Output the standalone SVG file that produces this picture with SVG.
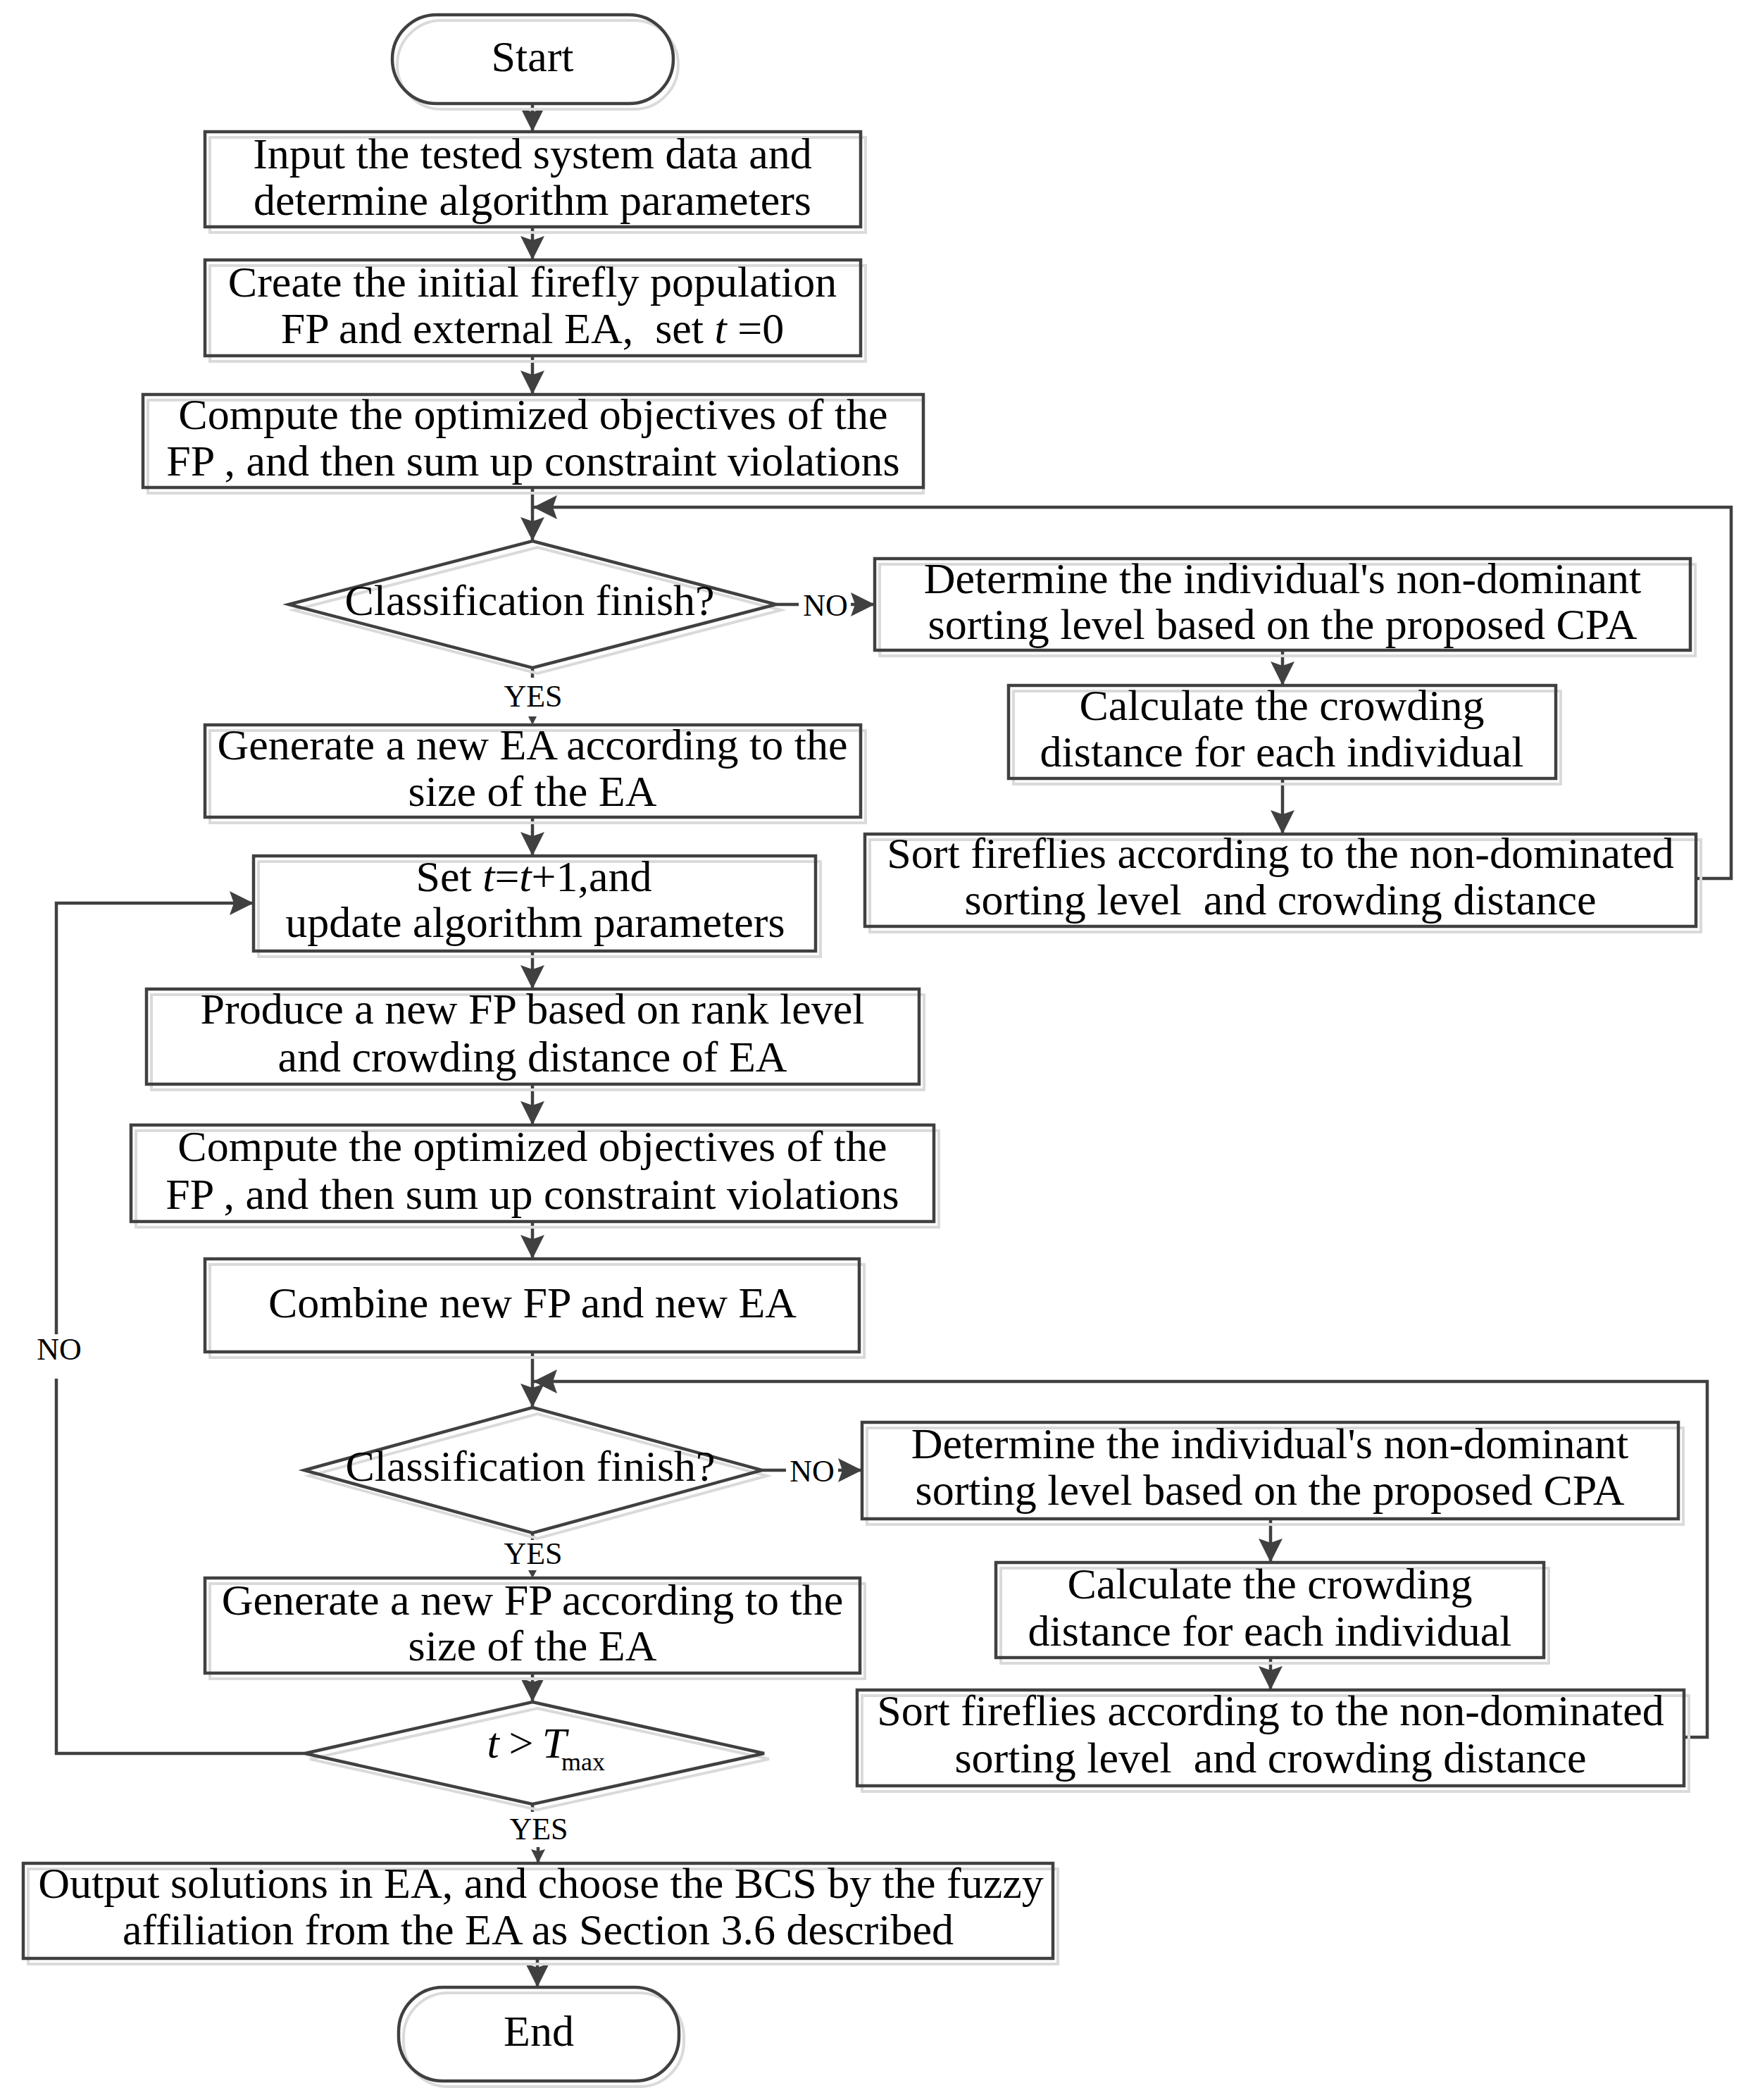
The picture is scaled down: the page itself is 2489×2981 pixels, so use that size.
<svg xmlns="http://www.w3.org/2000/svg" width="2489" height="2981" viewBox="0 0 2489 2981">
<style>
.box{fill:none;stroke:#404040;stroke-width:4.5}
.sh{fill:none;stroke:#dadada;stroke-width:4}
.t{font-family:"Liberation Serif","Times New Roman",serif;font-size:62px;text-anchor:middle;fill:#000;white-space:pre}
.lbl{font-family:"Liberation Serif","Times New Roman",serif;font-size:44px;text-anchor:middle;fill:#000}
.conn{fill:none;stroke:#404040;stroke-width:4.5}
.i{font-style:italic}
.ah{fill:#404040}
</style>
<defs>
<marker id="ah" markerUnits="userSpaceOnUse" markerWidth="36" markerHeight="36" refX="34" refY="17" orient="auto">
<path d="M0,0 L34,17 L0,34 L6,17 Z" fill="#404040"/>
</marker>
<marker id="ahs" markerUnits="userSpaceOnUse" markerWidth="22" markerHeight="22" refX="20" refY="10" orient="auto">
<path d="M0,0 L20,10 L0,20 L3,10 Z" fill="#404040"/>
</marker>
</defs>
<rect width="2489" height="2981" fill="#fff"/>

<g id="connectors">
<line class="conn" x1="756" y1="147" x2="756" y2="187" marker-end="url(#ah)"/>
<line class="conn" x1="756" y1="322" x2="756" y2="369" marker-end="url(#ah)"/>
<line class="conn" x1="756" y1="505" x2="756" y2="560" marker-end="url(#ah)"/>
<line class="conn" x1="756" y1="692" x2="756" y2="768" marker-end="url(#ah)"/>
<path class="conn" d="M2408,1247 H2458 V720 H757" marker-end="url(#ah)"/>
<line class="conn" x1="1102" y1="858" x2="1242" y2="858" marker-end="url(#ah)"/>
<line class="conn" x1="1821" y1="923" x2="1821" y2="973" marker-end="url(#ah)"/>
<line class="conn" x1="1821" y1="1105" x2="1821" y2="1184" marker-end="url(#ah)"/>
<line class="conn" x1="756" y1="948" x2="756" y2="962"/>
<polygon class="ah" points="750,1017 762,1017 756,1029"/>
<line class="conn" x1="756" y1="1160" x2="756" y2="1215" marker-end="url(#ah)"/>
<path class="conn" d="M433,2489 H80 V1282 H360" marker-end="url(#ah)"/>
<line class="conn" x1="756" y1="1350" x2="756" y2="1404" marker-end="url(#ah)"/>
<line class="conn" x1="756" y1="1539" x2="756" y2="1597" marker-end="url(#ah)"/>
<line class="conn" x1="756" y1="1734" x2="756" y2="1787" marker-end="url(#ah)"/>
<line class="conn" x1="756" y1="1919" x2="756" y2="1998" marker-end="url(#ah)"/>
<path class="conn" d="M2391,2466 H2424 V1961 H757" marker-end="url(#ah)"/>
<line class="conn" x1="1082" y1="2087" x2="1224" y2="2087" marker-end="url(#ah)"/>
<line class="conn" x1="1804" y1="2156" x2="1804" y2="2218" marker-end="url(#ah)"/>
<line class="conn" x1="1804" y1="2353" x2="1804" y2="2399" marker-end="url(#ah)"/>
<line class="conn" x1="756" y1="2176" x2="756" y2="2186"/>
<polygon class="ah" points="750,2229 762,2229 756,2240"/>
<line class="conn" x1="756" y1="2375" x2="756" y2="2416" marker-end="url(#ah)"/>
<line class="conn" x1="756" y1="2561" x2="756" y2="2572"/>
<line class="conn" x1="764" y1="2622" x2="764" y2="2645" marker-end="url(#ahs)"/>
<line class="conn" x1="763" y1="2780" x2="763" y2="2821" marker-end="url(#ah)"/>
<rect x="1134" y="836" width="74" height="44" fill="#fff"/>
<text class="lbl" x="1172" y="874">NO</text>
<rect x="1116" y="2065" width="74" height="44" fill="#fff"/>
<text class="lbl" x="1153" y="2103">NO</text>
<rect x="44" y="1894" width="80" height="63" fill="#fff"/>
<text class="lbl" x="84" y="1930">NO</text>
<text class="lbl" x="757" y="1003">YES</text>
<text class="lbl" x="757" y="2220">YES</text>
<text class="lbl" x="765" y="2611">YES</text>
</g>

<g id="start">
<rect class="sh" x="564" y="29" width="399" height="126" rx="63"/>
<rect class="box" x="557" y="21" width="399" height="126" rx="63"/>
<text class="t" x="756" y="101">Start</text>
</g>

<g id="input">
<rect class="sh" x="298" y="195" width="931" height="135"/>
<rect class="box" x="291" y="187" width="931" height="135"/>
<text class="t" x="756" y="239">Input the tested system data and</text>
<text class="t" x="756" y="305">determine algorithm parameters</text>
</g>

<g id="create">
<rect class="sh" x="298" y="377" width="931" height="136"/>
<rect class="box" x="291" y="369" width="931" height="136"/>
<text class="t" x="756" y="421">Create the initial firefly population</text>
<text class="t" x="756" y="487">FP and external EA,  set <tspan class="i">t</tspan> =0</text>
</g>

<g id="compute1">
<rect class="sh" x="210" y="568" width="1101" height="132"/>
<rect class="box" x="203" y="560" width="1108" height="132"/>
<text class="t" x="757" y="609">Compute the optimized objectives of the</text>
<text class="t" x="757" y="675">FP , and then sum up constraint violations</text>
</g>

<g id="decision1">
<polygon class="sh" points="763,777 1109,866 763,956 417,866"/>
<polygon class="box" points="756,768 1102,858 756,948 410,858"/>
<text class="t" x="752" y="873">Classification finish?</text>
</g>

<g id="determine1">
<rect class="sh" x="1249" y="801" width="1158" height="130"/>
<rect class="box" x="1242" y="793" width="1158" height="130"/>
<text class="t" x="1821" y="842">Determine the individual's non-dominant</text>
<text class="t" x="1821" y="907">sorting level based on the proposed CPA</text>
</g>

<g id="calculate1">
<rect class="sh" x="1439" y="981" width="777" height="132"/>
<rect class="box" x="1432" y="973" width="777" height="132"/>
<text class="t" x="1820" y="1022">Calculate the crowding</text>
<text class="t" x="1820" y="1088">distance for each individual</text>
</g>

<g id="sort1">
<rect class="sh" x="1235" y="1192" width="1180" height="131"/>
<rect class="box" x="1228" y="1184" width="1180" height="131"/>
<text class="t" x="1818" y="1232">Sort fireflies according to the non-dominated</text>
<text class="t" x="1818" y="1298">sorting level  and crowding distance</text>
</g>

<g id="generateEA">
<rect class="sh" x="298" y="1037" width="931" height="131"/>
<rect class="box" x="291" y="1029" width="931" height="131"/>
<text class="t" x="756" y="1078">Generate a new EA according to the</text>
<text class="t" x="756" y="1144">size of the EA</text>
</g>

<g id="sett">
<rect class="sh" x="367" y="1223" width="798" height="135"/>
<rect class="box" x="360" y="1215" width="798" height="135"/>
<text class="t" x="758" y="1265">Set <tspan class="i">t</tspan>=<tspan class="i">t</tspan>+1,and</text>
<text class="t" x="760" y="1330">update algorithm parameters</text>
</g>

<g id="produce">
<rect class="sh" x="215" y="1412" width="1097" height="135"/>
<rect class="box" x="208" y="1404" width="1097" height="135"/>
<text class="t" x="756" y="1453">Produce a new FP based on rank level</text>
<text class="t" x="756" y="1521">and crowding distance of EA</text>
</g>

<g id="compute2">
<rect class="sh" x="193" y="1605" width="1140" height="137"/>
<rect class="box" x="186" y="1597" width="1140" height="137"/>
<text class="t" x="756" y="1648">Compute the optimized objectives of the</text>
<text class="t" x="756" y="1716">FP , and then sum up constraint violations</text>
</g>

<g id="combine">
<rect class="sh" x="298" y="1795" width="929" height="132"/>
<rect class="box" x="291" y="1787" width="929" height="132"/>
<text class="t" x="756" y="1870">Combine new FP and new EA</text>
</g>

<g id="decision2">
<polygon class="sh" points="763,2007 1089,2095 763,2184 439,2095"/>
<polygon class="box" points="756,1998 1082,2087 756,2176 432,2087"/>
<text class="t" x="753" y="2102">Classification finish?</text>
</g>

<g id="determine2">
<rect class="sh" x="1231" y="2027" width="1159" height="137"/>
<rect class="box" x="1224" y="2019" width="1159" height="137"/>
<text class="t" x="1803" y="2070">Determine the individual's non-dominant</text>
<text class="t" x="1803" y="2136">sorting level based on the proposed CPA</text>
</g>

<g id="calculate2">
<rect class="sh" x="1421" y="2226" width="778" height="135"/>
<rect class="box" x="1414" y="2218" width="778" height="135"/>
<text class="t" x="1803" y="2269">Calculate the crowding</text>
<text class="t" x="1803" y="2336">distance for each individual</text>
</g>

<g id="sort2">
<rect class="sh" x="1224" y="2407" width="1174" height="136"/>
<rect class="box" x="1217" y="2399" width="1174" height="136"/>
<text class="t" x="1804" y="2449">Sort fireflies according to the non-dominated</text>
<text class="t" x="1804" y="2516">sorting level  and crowding distance</text>
</g>

<g id="generateFP">
<rect class="sh" x="298" y="2248" width="930" height="135"/>
<rect class="box" x="291" y="2240" width="930" height="135"/>
<text class="t" x="756" y="2292">Generate a new FP according to the</text>
<text class="t" x="756" y="2357">size of the EA</text>
</g>

<g id="decision3">
<polygon class="sh" points="763,2425 1092,2497 763,2569 440,2497"/>
<polygon class="box" points="756,2416 1085,2489 756,2561 433,2489"/>
<text class="t" x="700" y="2495"><tspan class="i">t</tspan></text>
<text class="t" x="740" y="2495">&gt;</text>
<text class="t" x="787" y="2495"><tspan class="i">T</tspan></text>
<text class="t" x="828" y="2513" style="font-size:36px">max</text>
</g>

<g id="output">
<rect class="sh" x="40" y="2653" width="1462" height="135"/>
<rect class="box" x="33" y="2645" width="1462" height="135"/>
<text class="t" x="768" y="2694">Output solutions in EA, and choose the BCS by the fuzzy</text>
<text class="t" x="764" y="2760">affiliation from the EA as Section 3.6 described</text>
</g>

<g id="end">
<rect class="sh" x="573" y="2829" width="398" height="133" rx="63"/>
<rect class="box" x="566" y="2821" width="398" height="133" rx="63"/>
<text class="t" x="765" y="2904">End</text>
</g>
</svg>
